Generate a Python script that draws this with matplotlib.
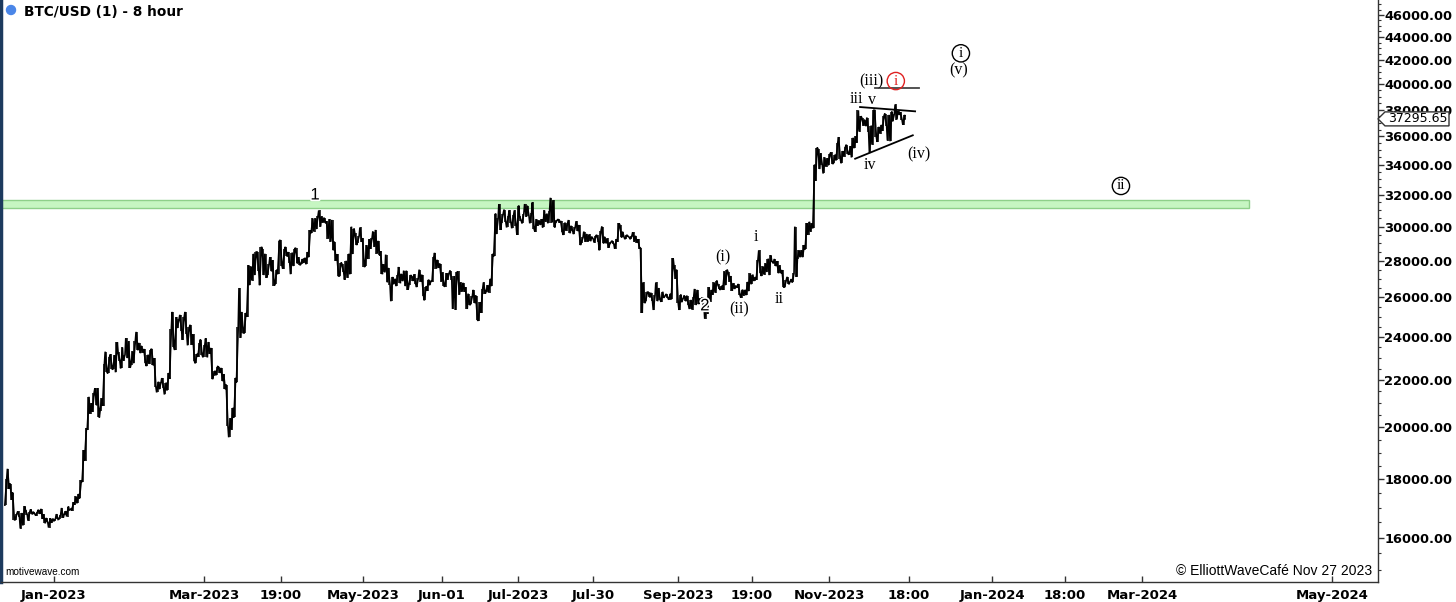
import numpy as np
import matplotlib
matplotlib.use("Agg")
import matplotlib.pyplot as plt
import matplotlib.patheffects as pe
from matplotlib.patches import Rectangle, Circle, Polygon
from matplotlib.ticker import FixedLocator, NullFormatter, FuncFormatter

# ---------------- data: daily high / low, day 0 = 2022-12-13 ----------------
dec22_high = [18000, 18390, 17850, 17530, 16800, 16870, 16820, 17050, 16920, 16860, 16940, 16860, 16860, 16930, 16960, 16770, 16650, 16640, 16630]
dec22_low = [17090, 17660, 17280, 16580, 16590, 16670, 16300, 16400, 16760, 16560, 16770, 16780, 16730, 16790, 16620, 16470, 16500, 16330, 16490]
jan23_high = [16630, 16780, 16760, 16990, 16880, 17040, 16960, 17180, 17390, 17480, 17970, 19090, 19960, 21270, 21000, 21450, 21640, 21650, 21200, 22750, 23300, 23060, 23170, 23140, 23750, 23270, 23500, 23160, 23950, 23800, 23310]
jan23_low = [16540, 16600, 16610, 16660, 16760, 16700, 16910, 16900, 17100, 17150, 17320, 17900, 18700, 19900, 20550, 20630, 20900, 20400, 20670, 20880, 22350, 22300, 22500, 22480, 22350, 22850, 22530, 22880, 23000, 22550, 22700]
feb23_high = [23800, 24250, 23720, 23580, 23430, 23160, 23370, 23440, 23000, 21930, 21900, 22090, 21890, 22320, 24380, 25250, 24990, 24880, 25100, 25000, 25250, 24470, 24600, 24130, 23200, 23690, 23880, 23600]
feb23_low = [22760, 23370, 23230, 23260, 22760, 22630, 22730, 22670, 21700, 21460, 21600, 21650, 21370, 21550, 22050, 23500, 23380, 24440, 24300, 23860, 24150, 23600, 23630, 22850, 22760, 23070, 23130, 23040]
mar23_high = [23930, 23760, 23480, 22420, 22610, 22600, 22550, 22270, 21800, 20370, 20800, 22100, 24500, 26500, 25250, 25200, 27750, 27680, 28400, 28500, 28500, 28800, 28700, 28400, 27800, 28200, 28040, 27500, 29150, 29200, 28650]
mar23_low = [23030, 23200, 22040, 22200, 22210, 22320, 21950, 21600, 20050, 19600, 19900, 20400, 21900, 23960, 24200, 24200, 25000, 26650, 26900, 27200, 27400, 26650, 27200, 27050, 27200, 27400, 26630, 26700, 27250, 27730, 27550]
apr23_high = [28800, 28500, 28470, 28700, 28740, 28200, 28100, 28170, 28500, 29780, 30500, 30500, 30620, 31000, 30620, 30550, 30320, 30460, 30410, 29100, 28380, 27900, 27820, 28000, 28400, 30000, 29880, 29600, 29450, 29950]
apr23_low = [28250, 27900, 27250, 27700, 27850, 27750, 27800, 27880, 27800, 28200, 29600, 29700, 29850, 30000, 30240, 30200, 29270, 29100, 28600, 28000, 27150, 27150, 27350, 26950, 27050, 27250, 28380, 28900, 29050, 29100]
may23_high = [29300, 28900, 29250, 29300, 29700, 29800, 29150, 28550, 27800, 28350, 27600, 27100, 27000, 27200, 27650, 27270, 27450, 27450, 27200, 27150, 27250, 27050, 27500, 27220, 26580, 26950, 26900, 28200, 28450, 28050, 27840]
may23_low = [27650, 27700, 28100, 28680, 28800, 28400, 28300, 27250, 27350, 26800, 26650, 25800, 26700, 26600, 26750, 26870, 26600, 26400, 26650, 26880, 26700, 26550, 26850, 26100, 25850, 26350, 26650, 26850, 27550, 27600, 26850]
jun23_high = [27350, 27300, 27320, 27450, 27150, 27350, 27400, 26800, 26780, 26530, 26200, 26080, 26400, 26100, 25750, 26450, 26800, 26650, 27000, 28400, 30800, 30500, 31400, 30800, 31050, 30650, 31000, 30700, 31000, 31300]
jun23_low = [26600, 26580, 26950, 26950, 25400, 25350, 26150, 26300, 26300, 25400, 25600, 25650, 25700, 24850, 24800, 25200, 26200, 26300, 26250, 26600, 28250, 29550, 29800, 30250, 30300, 29950, 30200, 29900, 30050, 29500]
jul23_high = [30650, 30800, 31400, 31300, 30850, 31500, 30450, 30380, 30450, 31000, 30800, 30970, 31800, 31650, 30400, 30450, 30350, 30250, 30200, 30400, 30050, 29990, 30330, 30100, 29350, 29700, 29560, 29530, 29400, 29450, 29500]
jul23_low = [30350, 30200, 30600, 30650, 30200, 29850, 29700, 30050, 30100, 29950, 30300, 30200, 30250, 29950, 30250, 30250, 29650, 29500, 29750, 29600, 29720, 29550, 29730, 28900, 29050, 29100, 29100, 29130, 29250, 29050, 29100]
aug23_high = [29750, 30000, 29400, 29300, 29100, 29150, 29250, 30200, 30100, 29700, 29500, 29450, 29450, 29650, 29450, 29250, 28750, 26800, 26280, 26280, 26250, 26130, 26800, 26500, 26300, 26100, 26180, 26200, 28150, 27760, 27500]
aug23_low = [28600, 29000, 29000, 28750, 28950, 28950, 28700, 29100, 29350, 29350, 29250, 29350, 29250, 29100, 29050, 28700, 25200, 25700, 25800, 26000, 25800, 25350, 25800, 25870, 25770, 25980, 25970, 25880, 25900, 27000, 25700]
sep23_high = [26150, 25980, 26100, 26100, 25870, 26000, 26450, 26400, 25950, 26000, 25900, 26550, 26400, 26800, 26900, 26700, 26620, 27400, 27500, 27380, 27150, 26750, 26630, 26720, 26420, 26400, 26830, 27300, 27230, 27090]
sep23_low = [25350, 25750, 25800, 25600, 25400, 25370, 25600, 25650, 25830, 25550, 24900, 25150, 25770, 26150, 26250, 26470, 26400, 26400, 26650, 26850, 26360, 26450, 26520, 26130, 25990, 26100, 26120, 26330, 26700, 26880]
oct23_high = [28050, 28600, 27680, 27850, 28120, 28300, 28000, 28100, 27980, 27740, 27480, 26950, 27100, 26980, 27300, 30000, 28600, 28600, 28900, 30200, 30300, 30200, 34000, 35200, 35100, 34800, 34500, 34450, 34750, 34850, 34700]
oct23_low = [26950, 27300, 27150, 27230, 27370, 27200, 27850, 27700, 27300, 27300, 26550, 26550, 26700, 26800, 26800, 27100, 28100, 28200, 28200, 28650, 29500, 29700, 29900, 32900, 33700, 33950, 33400, 33860, 33950, 34050, 34100]
nov23_high = [35550, 35950, 34950, 35250, 35400, 35300, 35900, 36000, 37950, 37500, 37400, 37250, 37400, 36800, 37950, 37950, 36700, 36850, 37550, 37700, 37600, 37850, 37700, 38400, 37900, 37800, 37600]
nov23_low = [34300, 34400, 34100, 34550, 34750, 34700, 34500, 35150, 35550, 36350, 36800, 36750, 36300, 34800, 35400, 35950, 35600, 36200, 36400, 36750, 35700, 35650, 37100, 37250, 37600, 37200, 36850]
last_price = 37295.65

# support band and y ticks
band_low, band_high, band_end_day = 31150, 31650, 483.5
y_major = list(range(16000, 46001, 2000))

# x ticks (day index) and their labels
x_tick_days = [19.0, 77.3, 107.3, 139.1, 169.8, 199.4, 228.5, 261.6, 290.3, 320.3, 351.3, 383.6, 412.0, 441.9, 515.7]
x_tick_labels = ["Jan-2023", "Mar-2023", "19:00", "May-2023", "Jun-01", "Jul-2023", "Jul-30", "Sep-2023",
                 "19:00", "Nov-2023", "18:00", "Jan-2024", "18:00", "Mar-2024", "May-2024"]

# Elliott wave labels: (text, day, price, style)
wave_labels = [
    ("1", 120.5, 31980, "sans"), ("2", 272.0, 25560, "sans"),
    ("(i)", 278.9, 28195, "serif"), ("(ii)", 285.3, 25400, "serif"),
    ("i", 291.8, 29400, "serif"), ("ii", 300.9, 25920, "serif"),
    ("iii", 331.0, 38800, "serif"), ("v", 336.8, 38745, "serif"),
    ("iv", 336.2, 33980, "serif"), ("(iv)", 355.2, 34740, "serif"),
    ("(iii)", 336.8, 40200, "serif"), ("(v)", 370.8, 41110, "serif"),
]
circled_labels = [("i", 346.2, 40260, "#e02020"), ("i", 371.5, 42580, "black"), ("ii", 433.7, 32570, "black")]
trend_lines = [
    ([338.1, 355.2], [39720, 39720], "#444444"),
    ([332.3, 353.7], [38200, 37870], "black"),
    ([330.4, 352.8], [34410, 36080], "black"),
]

# ---------------- assemble ----------------
high = np.array(dec22_high + jan23_high + feb23_high + mar23_high + apr23_high + may23_high +
                jun23_high + jul23_high + aug23_high + sep23_high + oct23_high + nov23_high, float)
low = np.array(dec22_low + jan23_low + feb23_low + mar23_low + apr23_low + may23_low +
               jun23_low + jul23_low + aug23_low + sep23_low + oct23_low + nov23_low, float)
n = len(high)
days = np.arange(n) + 0.3

# jagged path through each day's extremes (direction follows the next day's move)
mid = (high + low) / 2
px, py = [], []
for i in range(n):
    up = (mid[i + 1] > mid[i]) if i < n - 1 else (last_price > mid[i])
    a, b = (low[i], high[i]) if up else (high[i], low[i])
    px += [days[i] - 0.35, days[i] + 0.35]
    py += [a, b]
px.append(days[-1] + 0.5)
py.append(last_price)

W, H = 1456, 602
fig = plt.figure(figsize=(W / 100, H / 100), dpi=100)
ax = fig.add_axes([1 / W, 20 / H, 1377 / W, 582 / H])
ax.set_yscale("log")
ax.set_xlim(-1.55, 533.6)
ax.set_ylim(14630, 47424)

ax.add_patch(Rectangle((-5, band_low), band_end_day + 5, band_high - band_low,
                       facecolor="#c6f6c2", edgecolor="#8ed08a", lw=1.0, zorder=1))
ax.vlines(days, low, high, colors="black", lw=1.1, zorder=3)
ax.plot(px, py, color="black", lw=1.2, zorder=3, solid_joinstyle="miter")

for xs, ys, c in trend_lines:
    ax.plot(xs, ys, color=c, lw=1.3, zorder=4)

halo = [pe.withStroke(linewidth=2.5, foreground="white")]
for t, d, p, st in wave_labels:
    if st == "sans":
        ax.text(d, p, t, fontsize=12, family="Liberation Sans", ha="center", va="center", zorder=6,
                path_effects=halo)
    else:
        ax.text(d, p, t, fontsize=11.5, family="Liberation Serif", ha="center", va="center", zorder=5)
for t, d, p, c in circled_labels:
    ax.text(d, p, t, fontsize=11, family="Liberation Serif", color=c, ha="center", va="center", zorder=5,
            bbox=dict(boxstyle="circle,pad=0.14", fc="none", ec=c, lw=1.0))

# axes styling
ax.spines["top"].set_visible(False)
ax.spines["left"].set_color("#1c3a5e")
ax.spines["left"].set_linewidth(2.5)
ax.spines["bottom"].set_color("#333333")
ax.spines["right"].set_color("#333333")
ax.spines["bottom"].set_linewidth(1.0)
ax.spines["right"].set_linewidth(1.0)

ax.yaxis.tick_right()
ax.yaxis.set_major_locator(FixedLocator(y_major))
ax.yaxis.set_major_formatter(FuncFormatter(lambda v, p: f"{v:.2f}"))
minors = [v for v in range(14500, 47500, 500) if v % 2000 != 0]
ax.yaxis.set_minor_locator(FixedLocator(minors))
ax.yaxis.set_minor_formatter(NullFormatter())
ax.tick_params(axis="y", which="major", direction="out", length=4, width=1, pad=0.5, labelsize=9.4,
               colors="#333333", labelcolor="black")
ax.tick_params(axis="y", which="minor", direction="out", length=2.5, width=0.8, colors="#333333")
for lab in ax.get_yticklabels():
    lab.set_fontweight("bold")

ax.set_xticks(x_tick_days)
ax.set_xticklabels(x_tick_labels)
ax.tick_params(axis="x", which="major", direction="in", length=4, width=1, pad=5, labelsize=9.5, colors="#333333",
               labelcolor="black")
for lab in ax.get_xticklabels():
    lab.set_fontweight("bold")

# title, dot, watermark texts
fig.add_artist(Circle((11, H - 10), 4.5, transform=None, color="#4a86e8", zorder=10))
fig.text(24 / W, 1 - 12 / H, "BTC/USD (1) - 8 hour", fontsize=9.8, fontweight="bold", ha="left", va="center")
fig.text(5 / W, 1 - 572 / H, "motivewave.com", fontsize=7.2, family="Liberation Sans", ha="left", va="center")
fig.text(1372 / W, 1 - 571 / H, "© ElliottWaveCafé Nov 27 2023", fontsize=10, family="Liberation Sans",
         ha="right", va="center")

# price tag on the axis
fig.canvas.draw()
yc = ax.transData.transform((0, last_price))[1]
xr = ax.transAxes.transform((1, 0))[0]
tag = Polygon([(xr, yc), (xr + 7, yc + 7), (xr + 71, yc + 7), (xr + 71, yc - 7), (xr + 7, yc - 7)],
              closed=True, transform=None, facecolor="white", edgecolor="#333333", lw=1.0, zorder=20)
fig.add_artist(tag)
fig.text((xr + 40) / W, yc / H, f"{last_price:.2f}", fontsize=9, ha="center", va="center", zorder=21)

fig.savefig("out.png", dpi=100, facecolor="white")
